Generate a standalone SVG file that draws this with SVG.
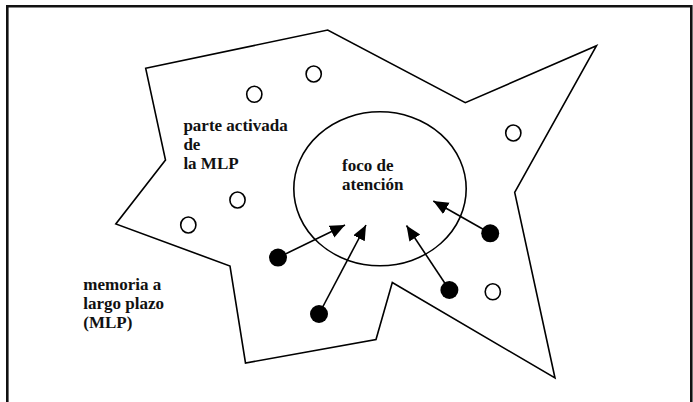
<svg xmlns="http://www.w3.org/2000/svg" width="693" height="402" viewBox="0 0 693 402">
<style>
.ln{fill:none;stroke:#000;stroke-width:1.6;stroke-linejoin:miter}
.open{fill:#fff;stroke:#000;stroke-width:1.6}
.dot{fill:#000;stroke:none}
.lbl{font-family:"Liberation Serif","Times New Roman",serif;font-weight:bold;font-size:17px;fill:#111}
.arr{stroke:#000;stroke-width:1.6;fill:none;marker-end:url(#ah)}
</style>
<defs>
<marker id="ah" markerUnits="userSpaceOnUse" markerWidth="16" markerHeight="14" refX="15" refY="6.5" orient="auto">
<path d="M0,0 L15,6.5 L0,13 z" fill="#000"/>
</marker>
</defs>
<rect width="693" height="402" fill="#fff"/>
<path id="frame" d="M7.3,402 V6.2 H691.3 V402" fill="none" stroke="#111" stroke-width="2.6"/>
<g id="mlp-region">
<polygon class="ln" points="145.7,68.3 327.7,30 465.3,102.7 596.5,45.7 514.7,192.3 555,378 392.3,282.5 376,339.5 245.5,363 230,266 115.8,224 165.5,160"/>
</g>
<g id="focus">
<ellipse class="ln" cx="380" cy="188.8" rx="86.2" ry="77"/>
</g>
<g id="open-items">
<ellipse class="open" cx="313.7" cy="74" rx="7.6" ry="8"/>
<ellipse class="open" cx="254.3" cy="94.3" rx="7.6" ry="8"/>
<ellipse class="open" cx="513.3" cy="133" rx="7.6" ry="8"/>
<ellipse class="open" cx="237.5" cy="200" rx="7.6" ry="8"/>
<ellipse class="open" cx="188.3" cy="225" rx="7.6" ry="8"/>
<ellipse class="open" cx="492.8" cy="291.8" rx="7.6" ry="8"/>
</g>
<g id="active-items">
<circle class="dot" cx="278" cy="257.6" r="9"/>
<circle class="dot" cx="319" cy="314" r="9"/>
<circle class="dot" cx="449.4" cy="290" r="9"/>
<circle class="dot" cx="490.2" cy="233.3" r="9"/>
</g>
<g id="connectors">
<line class="arr" x1="278" y1="257.6" x2="345" y2="225"/>
<line class="arr" x1="319" y1="314" x2="366" y2="225"/>
<line class="arr" x1="449.4" y1="290" x2="406.5" y2="225.5"/>
<line class="arr" x1="490.2" y1="233.3" x2="433.3" y2="201"/>
</g>
<g id="label-activated">
<text class="lbl" x="183.4" y="131"><tspan x="183.4">parte activada</tspan><tspan x="183.4" dy="19">de</tspan><tspan x="183.4" dy="19">la MLP</tspan></text>
</g>
<g id="label-focus">
<text class="lbl" x="342" y="170.7"><tspan x="342">foco de</tspan><tspan x="342" dy="19">atención</tspan></text>
</g>
<g id="label-ltm">
<text class="lbl" x="83.3" y="289.7"><tspan x="83.3">memoria a</tspan><tspan x="83.3" dy="19">largo plazo</tspan><tspan x="83.3" dy="19">(MLP)</tspan></text>
</g>
</svg>
